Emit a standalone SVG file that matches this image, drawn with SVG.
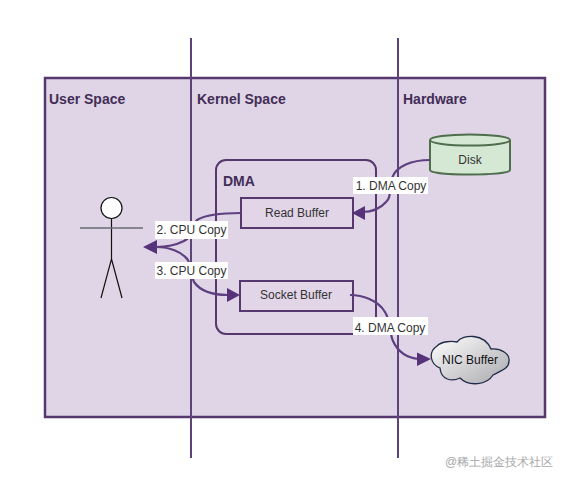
<svg xmlns="http://www.w3.org/2000/svg" width="565" height="482" viewBox="0 0 565 482">
<style>
text{font-family:"Liberation Sans",Arial,sans-serif}
.h{font-size:14px;font-weight:bold;fill:#432d57}
.l{font-size:12px;fill:#333;text-anchor:middle}
.b{fill:#e1d5e7;stroke:#56386f;stroke-width:2}
.c{fill:none;stroke:#5e3f80;stroke-width:2.2}
.a{fill:#56327a}
.s{stroke:#111;stroke-width:1.2;fill:none}
.lb{fill:#fff}
</style>
<defs>
<linearGradient id="g" x1="0" y1="0" x2="1" y2="1"><stop offset="0" stop-color="#fff"/><stop offset="1" stop-color="#a9a9ae"/></linearGradient>
</defs>
<g id="frame"><rect x="45" y="78" width="500" height="339" fill="#e0d5e6" stroke="#56386f" stroke-width="2.500"/></g>
<g id="lanes"><path d="M191 38V458M398 38V458" fill="none" stroke="#5d4379" stroke-width="2"/></g>
<text class="h" x="49" y="104">User Space</text>
<text class="h" x="197" y="104">Kernel Space</text>
<text class="h" x="403" y="104">Hardware</text>
<g id="dma"><rect x="216" y="160" width="160" height="174" rx="10" fill="none" stroke="#56386f" stroke-width="2"/><text class="h" x="223" y="186">DMA</text></g>
<g id="read-buffer"><rect class="b" x="241" y="198" width="112" height="30"/><text class="l" x="297" y="217">Read Buffer</text></g>
<g id="socket-buffer"><rect class="b" x="240" y="281" width="113" height="30"/><text class="l" x="296" y="299">Socket Buffer</text></g>
<g id="disk"><path d="M430 140V170C430 176 510 176 510 170V140" fill="#d5e8d4" stroke="#4f6e4d" stroke-width="2"/><ellipse cx="470" cy="140" rx="40" ry="5.500" fill="#d5e8d4" stroke="#4f6e4d" stroke-width="2"/><text class="l" x="470" y="164">Disk</text></g>
<g id="nic-buffer"><path d="M440 368C430 364 428 352 437 346C442 341 452 341 457 342C463 334 484 333 491 349C501 348 510 354 509 361C509 368 503 370 493 375C487 385 469 387 460 378C452 382 441 380 440 368Z" fill="url(#g)" stroke="#1f2b46" stroke-width="1.300"/><text class="l" x="470" y="364" style="fill:#111">NIC Buffer</text></g>
<g id="user"><circle cx="111.500" cy="208" r="10.500" fill="#fff" stroke="#111" stroke-width="1.200"/><path class="s" d="M111.500 218.500V259L101 298M111.500 259L122 298"/><path d="M80 228H143" stroke="#6a6a72" stroke-width="1.500"/></g>
<g id="connectors">
<path class="c" d="M430 160C412 160 396 166 392 178C388 192 392 196 386 202C380 209 372 212 362 212"/><path class="a" d="M352 213L365 206V220Z"/>
<path class="c" d="M241 213C222 213 205 215 197 220C190 226 194 236 184 241C176 245 166 247 156 247"/><path class="a" d="M143 247L157 240V254Z"/>
<path class="c" d="M156 247C170 247 182 252 188 260C192 268 190 274 194 282C201 292 214 295 228 295"/><path class="a" d="M240 295L227 288V302Z"/>
<path class="c" d="M350 295C362 295 378 300 385 312C392 324 389 332 393 341C398 352 408 358 419 359"/><path class="a" d="M431 359L417 352.500V366Z"/>
</g>
<g id="labels">
<rect class="lb" x="353" y="177" width="75" height="17"/><text class="l" x="391" y="190">1. DMA Copy</text>
<rect class="lb" x="155" y="221" width="73" height="18"/><text class="l" x="191.500" y="234">2. CPU Copy</text>
<rect class="lb" x="155" y="262" width="73" height="17"/><text class="l" x="191.500" y="275">3. CPU Copy</text>
<rect class="lb" x="353" y="317" width="75" height="18"/><text class="l" x="390" y="332">4. DMA Copy</text>
</g>
<text x="445" y="466" font-size="12" fill="#a8a8a8" font-family="'Liberation Sans','Noto Sans CJK SC',sans-serif">@稀土掘金技术社区</text>
</svg>
